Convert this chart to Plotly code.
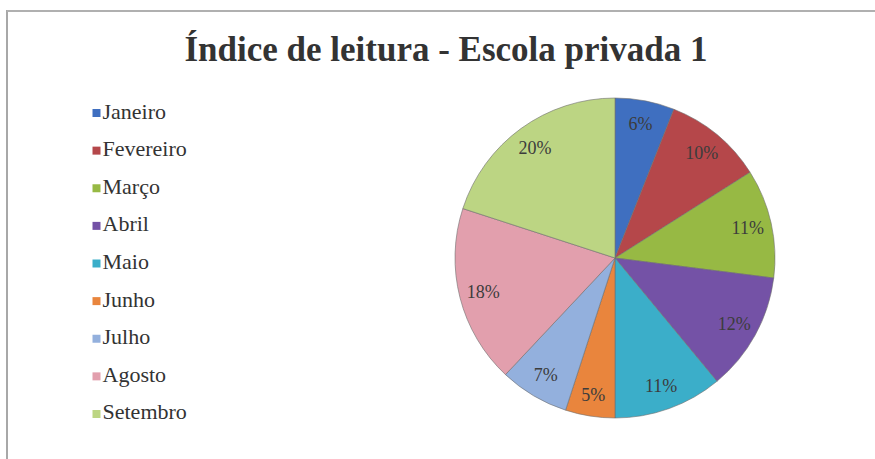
import plotly.graph_objects as go

months = ["Janeiro", "Fevereiro", "Março", "Abril", "Maio", "Junho", "Julho", "Agosto", "Setembro"]
percent = [6, 10, 11, 12, 11, 5, 7, 18, 20]
colors = ["#3F6FC0", "#B5474A", "#97B944", "#7452A6", "#3BAEC9", "#E9853D", "#93B0DD", "#E29FAD", "#BCD583"]

W, H = 875, 459
pie_dom = dict(x=[455 / W, 775 / W], y=[(H - 421) / H, (H - 95) / H])
serif = "Liberation Serif"

fig = go.Figure()

# the coloured slices
fig.add_trace(go.Pie(
    labels=months, values=percent, sort=False, direction="clockwise", rotation=0,
    marker=dict(colors=colors, line=dict(color="#6e6e6e", width=0.6)),
    textinfo="none", showlegend=False, hoverinfo="label+percent",
    domain=pie_dom,
))

# transparent ring on top only to push the % labels out toward the rim
fig.add_trace(go.Pie(
    labels=months, values=percent, sort=False, direction="clockwise", rotation=0,
    hole=0.7,
    marker=dict(colors=["rgba(0,0,0,0)"] * len(months), line=dict(width=0)),
    texttemplate="%{percent:.0%}", textposition="inside",
    insidetextorientation="horizontal",
    textfont=dict(family=serif, size=18, color="#3c3c3c"),
    showlegend=False, hoverinfo="skip",
    domain=pie_dom,
))

# legend: square markers with the month names next to them
fig.add_trace(go.Scatter(
    x=[96.5] * len(months), y=list(range(len(months))),
    mode="markers+text", text=months, textposition="middle right",
    marker=dict(symbol="square", size=8, color=colors),
    textfont=dict(family=serif, size=22, color="#333333"),
    showlegend=False, hoverinfo="skip", cliponaxis=False,
))

fig.update_layout(
    width=W, height=H,
    paper_bgcolor="white", plot_bgcolor="rgba(0,0,0,0)",
    margin=dict(l=0, r=0, t=0, b=0),
    title=dict(text="<b>Índice de leitura - Escola privada 1</b>",
               x=446 / W, xanchor="center", y=1 - 49 / H, yanchor="middle",
               font=dict(family=serif, size=35, color="#333333")),
    xaxis=dict(visible=False, domain=[0, 300 / W], range=[0, 300]),
    yaxis=dict(visible=False, domain=[(H - 432.8) / H, (H - 94.2) / H],
               range=[len(months) - 0.5, -0.5]),
    shapes=[
        dict(type="line", xref="paper", yref="paper", x0=7 / W, x1=7 / W, y0=0, y1=1 - 10 / H,
             line=dict(color="#a8a8a8", width=2)),
        dict(type="line", xref="paper", yref="paper", x0=7 / W, x1=1, y0=1 - 11 / H, y1=1 - 11 / H,
             line=dict(color="#b0b0b0", width=2)),
    ],
)

fig.write_html("out.html", config={"displayModeBar": False},
               post_script="document.body.style.margin='0';")
